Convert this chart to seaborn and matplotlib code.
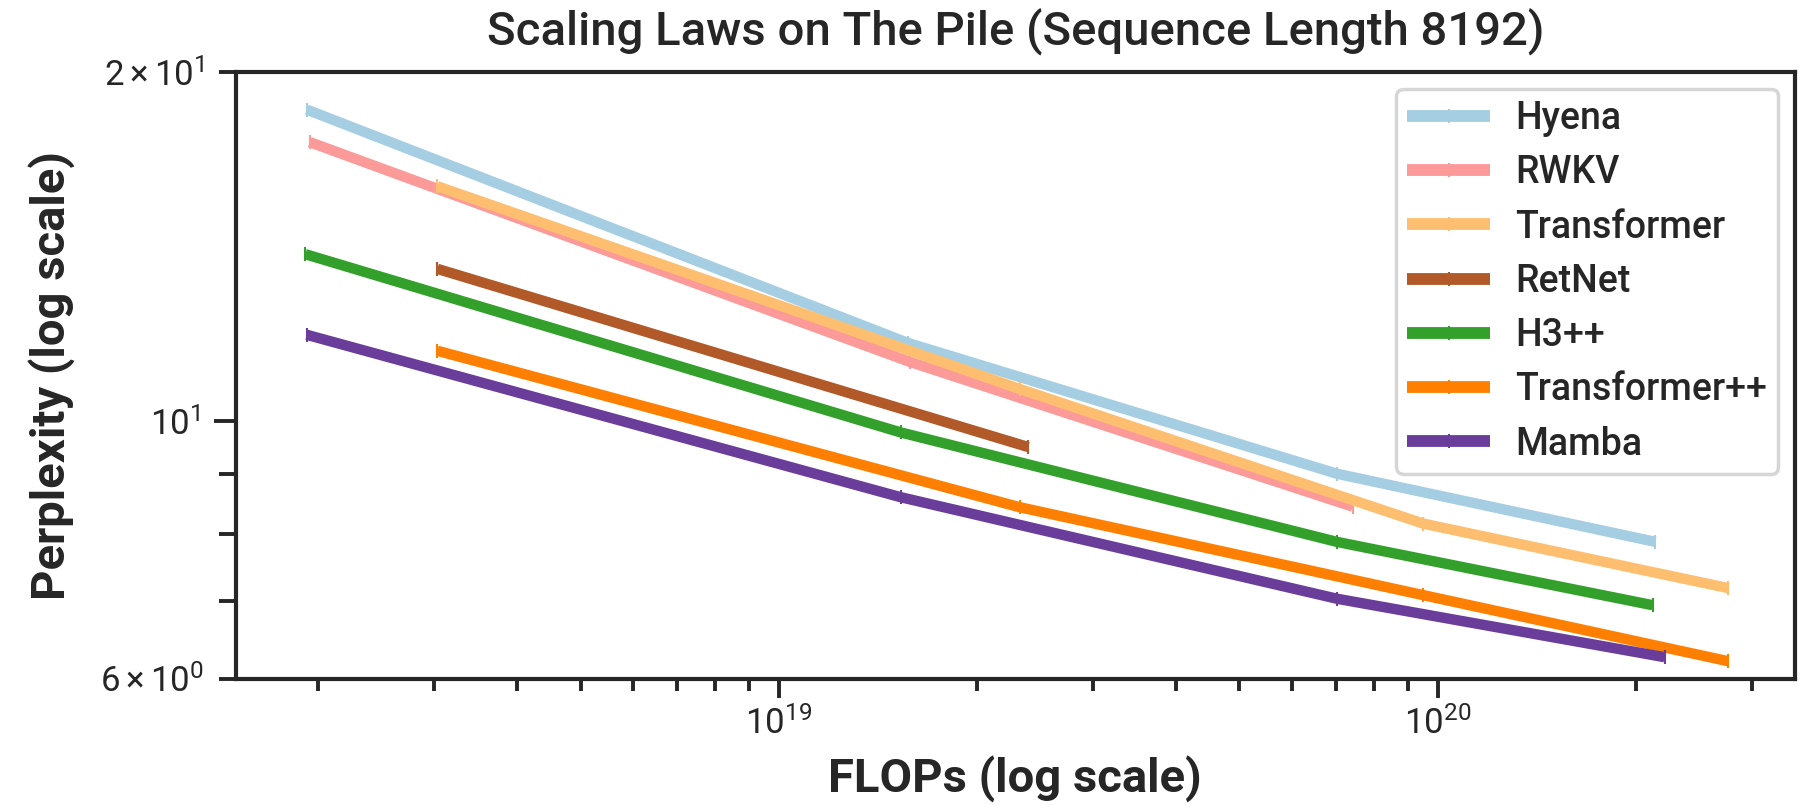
import numpy as np
import pandas as pd
import matplotlib
matplotlib.use("Agg")
import matplotlib.pyplot as plt
import seaborn as sns
from matplotlib.ticker import FixedLocator, FixedFormatter

# ---- data ----
models = ["Hyena", "RWKV", "Transformer", "RetNet", "H3++", "Transformer++", "Mamba"]
colors = ["#a6cee3", "#fb9a99", "#fdbf6f", "#b15928", "#33a02c", "#ff7f00", "#6a3d9a"]

hyena_flops = [1.92e18, 1.57e19, 7.03e19, 2.14e20]
hyena_ppl = [18.56, 11.68, 9.01, 7.87]
rwkv_flops = [1.94e18, 1.58e19, 7.43e19]
rwkv_ppl = [17.40, 11.25, 8.44]
transformer_flops = [3.03e18, 2.32e19, 9.51e19, 2.76e20]
transformer_ppl = [15.94, 10.66, 8.16, 7.18]
retnet_flops = [3.03e18, 2.39e19]
retnet_ppl = [13.53, 9.50]
h3_flops = [1.91e18, 1.53e19, 7.03e19, 2.12e20]
h3_ppl = [13.93, 9.78, 7.87, 6.94]
tpp_flops = [3.03e18, 2.32e19, 9.51e19, 2.76e20]
tpp_ppl = [11.50, 8.43, 7.08, 6.21]
mamba_flops = [1.92e18, 1.53e19, 7.03e19, 2.21e20]
mamba_ppl = [11.87, 8.60, 7.03, 6.26]

y_major = [10]
y_major_labels = [r"$\mathdefault{10^{1}}$"]
y_minor = [6, 7, 8, 9, 20]
y_minor_labels = [r"$\mathdefault{6\times10^{0}}$", "", "", "", r"$\mathdefault{2\times10^{1}}$"]

title = "Scaling Laws on The Pile (Sequence Length 8192)"
xlabel = "FLOPs (log scale)"
ylabel = "Perplexity (log scale)"

series = [
    ("Hyena", hyena_flops, hyena_ppl),
    ("RWKV", rwkv_flops, rwkv_ppl),
    ("Transformer", transformer_flops, transformer_ppl),
    ("RetNet", retnet_flops, retnet_ppl),
    ("H3++", h3_flops, h3_ppl),
    ("Transformer++", tpp_flops, tpp_ppl),
    ("Mamba", mamba_flops, mamba_ppl),
]
rows = []
for name, xs, ys in series:
    for x, y in zip(xs, ys):
        rows.append({"model": name, "flops": x, "ppl": y})
df = pd.DataFrame(rows)

# ---- style ----
sns.set_theme(style="ticks")
plt.rcParams["font.family"] = ["Roboto", "DejaVu Sans"]
plt.rcParams["mathtext.fontset"] = "custom"
plt.rcParams["mathtext.rm"] = "Roboto"
plt.rcParams["mathtext.it"] = "Roboto"
plt.rcParams["mathtext.bf"] = "Roboto:bold"
ink = "#262626"

fig = plt.figure(figsize=(18.18, 8.05), dpi=100)
ax = fig.add_axes([0.1296, 0.1571, 0.8577, 0.7535])

palette = dict(zip(models, colors))
sns.lineplot(
    data=df, x="flops", y="ppl", hue="model", hue_order=models,
    palette=palette, linewidth=7.5, marker="|",
    markersize=10, markeredgewidth=1.5, sort=False, ax=ax,
    solid_capstyle="butt",
)
for ln in ax.get_lines():
    ln.set_markeredgecolor(ln.get_color())

ax.set_xscale("log")
ax.set_yscale("log")
ax.set_xlim(1.497e18, 3.486e20)
ax.set_ylim(6, 20)

ax.yaxis.set_major_locator(FixedLocator(y_major))
ax.yaxis.set_major_formatter(FixedFormatter(y_major_labels))
ax.yaxis.set_minor_locator(FixedLocator(y_minor))
ax.yaxis.set_minor_formatter(FixedFormatter(y_minor_labels))

for side in ["top", "right", "bottom", "left"]:
    ax.spines[side].set_linewidth(3.0)
    ax.spines[side].set_color(ink)

ax.tick_params(axis="x", which="major", length=14, width=2.8, pad=6, labelsize=25, colors=ink)
ax.tick_params(axis="x", which="minor", length=8.5, width=2.8, colors=ink)
ax.tick_params(axis="y", which="major", length=15.5, width=2.8, pad=10, labelsize=25, colors=ink)
ax.tick_params(axis="y", which="minor", length=12.5, width=2.8, pad=10, labelsize=25, colors=ink)

ax.set_title(title, fontsize=34, fontweight="medium", color=ink, pad=19)
ax.set_xlabel(xlabel, fontsize=34, fontweight="bold", color=ink, labelpad=10)
ax.set_ylabel(ylabel, fontsize=34, fontweight="bold", color=ink, labelpad=18)

leg = ax.legend(
    loc="upper right", frameon=True, fancybox=True,
    prop={"size": 27, "weight": "medium"},
    borderaxespad=0.45, borderpad=0.3, handlelength=2.2, handletextpad=0.67,
    labelspacing=0.46,
)
leg.get_frame().set_edgecolor("#d6d6d6")
leg.get_frame().set_linewidth(2.5)
leg.get_frame().set_alpha(1.0)
for t in leg.get_texts():
    t.set_color(ink)
for h in leg.get_lines():
    h.set_linewidth(8.5)
    h.set_markeredgecolor(h.get_color())

fig.savefig("out.png", dpi=100)
